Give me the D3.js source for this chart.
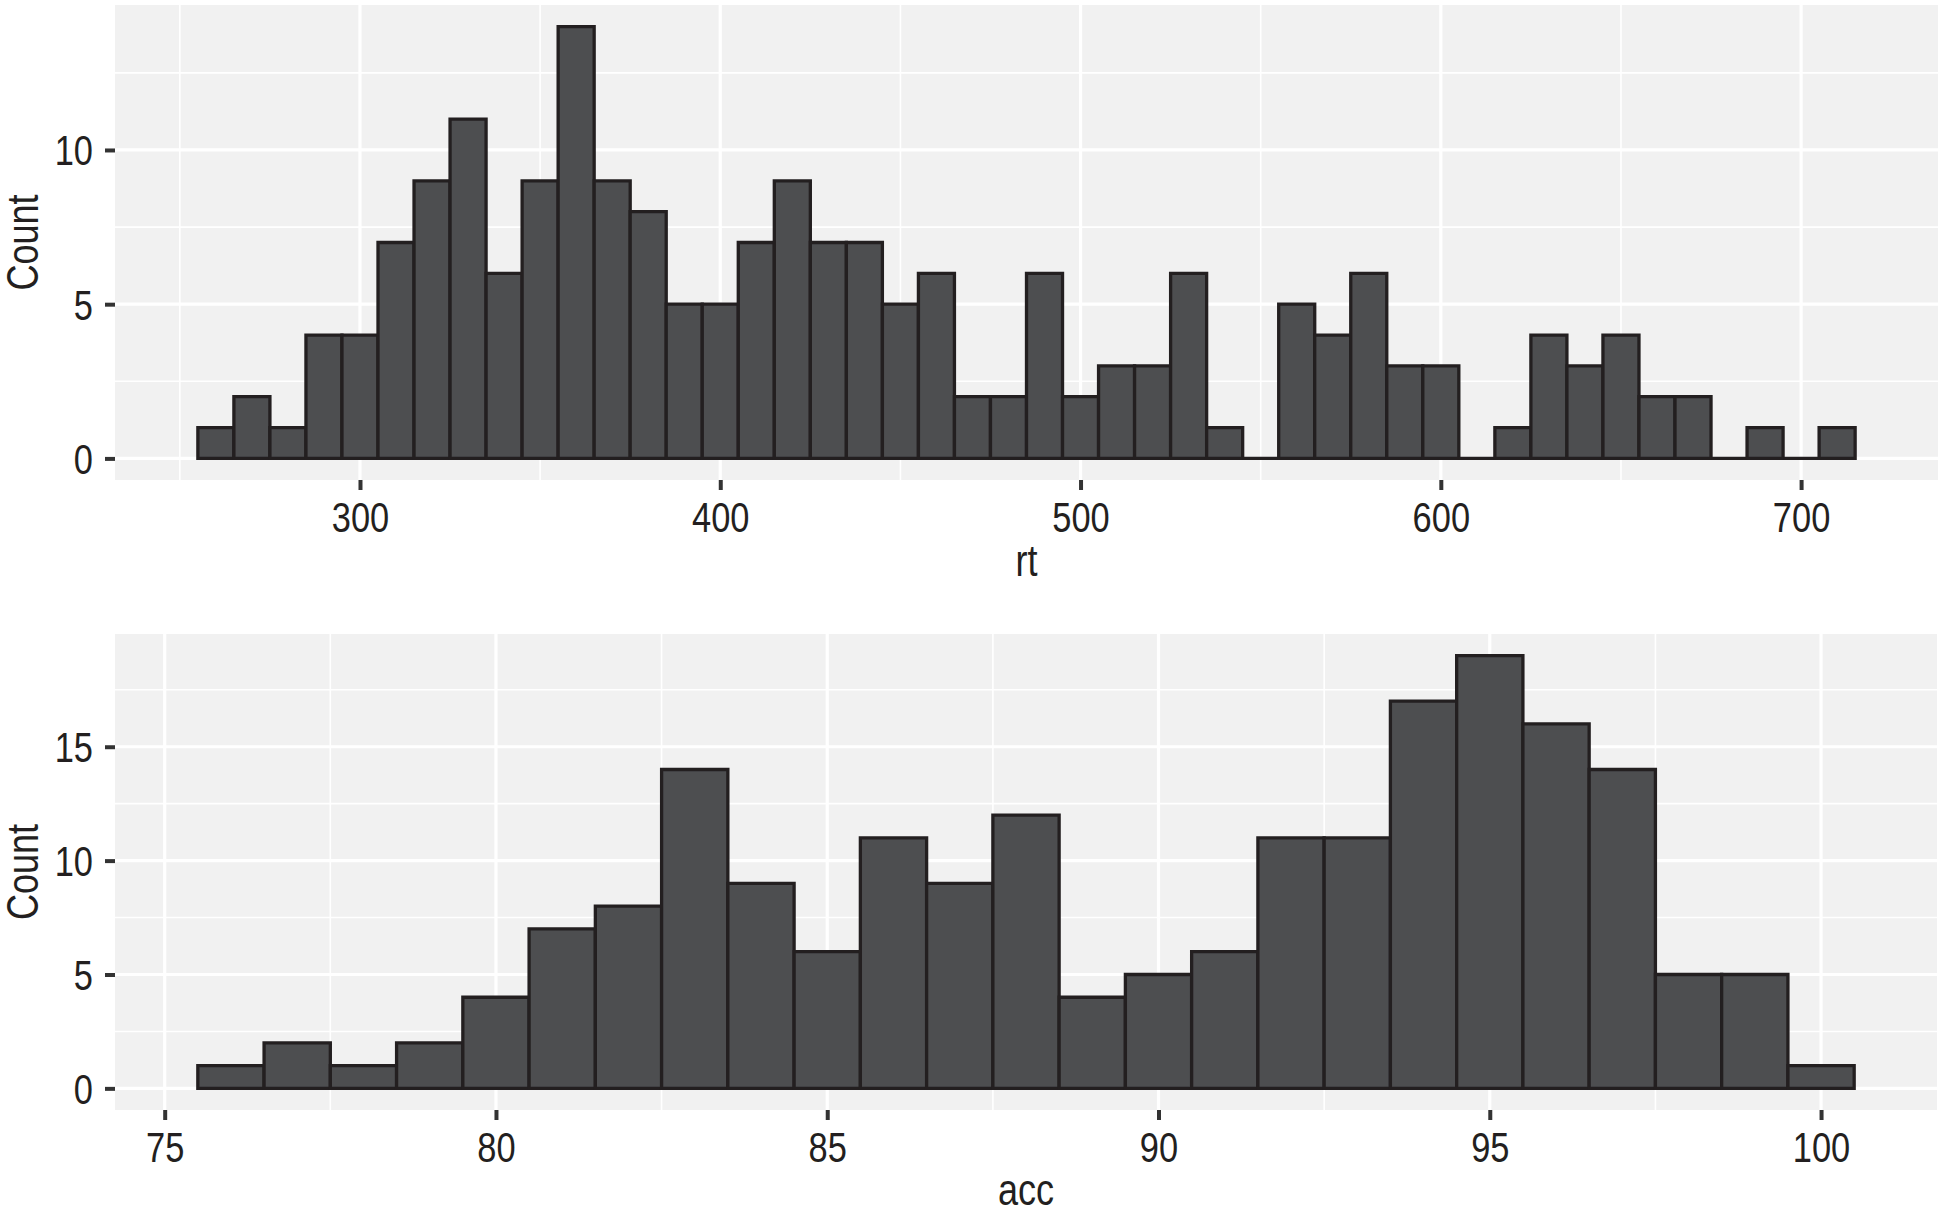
<!DOCTYPE html>
<html>
<head>
<meta charset="utf-8">
<script src="https://cdn.jsdelivr.net/npm/d3@7"></script>
<style>
  html, body { margin: 0; padding: 0; background: #ffffff; }
  svg { display: block; }
  text { font-family: "Liberation Sans", Arial, sans-serif; fill: #231f20; }
</style>
</head>
<body>
<svg id="chart" width="1943" height="1215"></svg>
<script>
// ---------- data ----------
const rtBinWidth = 10;
const rtCenters = [260,270,280,290,300,310,320,330,340,350,360,370,380,390,400,410,420,430,440,450,
                   460,470,480,490,500,510,520,530,540,550,560,570,580,590,600,610,620,630,640,650,
                   660,670,680,690,700,710];
const rtCounts  = [1,2,1,4,4,7,9,11,6,9,14,9,8,5,5,7,9,7,7,5,
                   6,2,2,6,2,3,3,6,1,0,5,4,6,3,3,0,1,4,3,4,
                   2,2,0,1,0,1];
const rtXTicks = [300,400,500,600,700];
const rtYTicks = [0,5,10];

const accBinWidth = 1;
const accCenters = [76,77,78,79,80,81,82,83,84,85,86,87,88,89,90,91,92,93,94,95,96,97,98,99,100];
const accCounts  = [1,2,1,2,4,7,8,14,9,6,11,9,12,4,5,6,11,11,17,19,16,14,5,5,1];
const accXTicks = [75,80,85,90,95,100];
const accYTicks = [0,5,10,15];

const yTitle = "Count";

// ---------- drawing ----------
const svg = d3.select("#chart");
const NARROW = 0.82;       // horizontal squeeze to mimic a narrow face
const TICK_FS = 42, TITLE_FS = 44;

function expand(lo, hi, f) { const d = (hi - lo) * f; return [lo - d, hi + d]; }

function panel(opts) {
  const { left, right, top, bottom, centers, counts, bw, xTicks, yTicks, xTitle, titleGap } = opts;
  const xmin = d3.min(centers) - bw / 2, xmax = d3.max(centers) + bw / 2;
  const x = d3.scaleLinear().domain(expand(xmin, xmax, 0.05)).range([left, right]);
  const ymax = d3.max(counts);
  const y = d3.scaleLinear().domain(expand(0, ymax, 0.05)).range([bottom, top]);

  const g = svg.append("g");
  g.append("rect").attr("x", left).attr("y", top)
    .attr("width", right - left).attr("height", bottom - top)
    .attr("fill", "#f1f1f1");

  // grid
  const xDom = x.domain(), yDom = y.domain();
  const xStep = xTicks[1] - xTicks[0];
  const xMinor = [];
  for (let v = xTicks[0] - xStep / 2; v <= xDom[1]; v += xStep) if (v >= xDom[0]) xMinor.push(v);
  const yStep = yTicks[1] - yTicks[0];
  const yMinor = [];
  for (let v = yTicks[0] + yStep / 2; v <= yDom[1]; v += yStep) yMinor.push(v);

  g.selectAll(".xminor").data(xMinor).join("line")
    .attr("x1", d => x(d)).attr("x2", d => x(d)).attr("y1", top).attr("y2", bottom)
    .attr("stroke", "#ffffff").attr("stroke-width", 1.6);
  g.selectAll(".yminor").data(yMinor).join("line")
    .attr("y1", d => y(d)).attr("y2", d => y(d)).attr("x1", left).attr("x2", right)
    .attr("stroke", "#ffffff").attr("stroke-width", 1.6);
  g.selectAll(".xmajor").data(xTicks).join("line")
    .attr("x1", d => x(d)).attr("x2", d => x(d)).attr("y1", top).attr("y2", bottom)
    .attr("stroke", "#ffffff").attr("stroke-width", 3.2);
  g.selectAll(".ymajor").data(yTicks).join("line")
    .attr("y1", d => y(d)).attr("y2", d => y(d)).attr("x1", left).attr("x2", right)
    .attr("stroke", "#ffffff").attr("stroke-width", 3.2);

  // bars (paths so zero-count bins still show their outline on the baseline)
  const data = centers.map((c, i) => ({ c, n: counts[i] }));
  g.selectAll(".bar").data(data).join("path")
    .attr("d", d => {
      const x0 = x(d.c - bw / 2), x1 = x(d.c + bw / 2), y0 = y(0), y1 = y(d.n);
      return `M${x0},${y0}V${y1}H${x1}V${y0}Z`;
    })
    .attr("fill", "#4d4e50").attr("stroke", "#231f20").attr("stroke-width", 3.3)
    .attr("stroke-linejoin", "miter");

  // axes
  const xAxis = d3.axisBottom(x).tickValues(xTicks).tickSize(10).tickFormat(d3.format("d"));
  const ax = g.append("g").attr("transform", `translate(0,${bottom})`).call(xAxis);
  ax.select(".domain").remove();
  ax.selectAll(".tick line").attr("stroke", "#333333").attr("stroke-width", 4);
  ax.selectAll(".tick text").attr("font-size", TICK_FS).attr("fill", "#231f20")
    .attr("dy", null).attr("x", 0).attr("y", 0)
    .attr("transform", `translate(0,52) scale(${NARROW},1)`);

  const yAxis = d3.axisLeft(y).tickValues(yTicks).tickSize(10).tickFormat(d3.format("d"));
  const ay = g.append("g").attr("transform", `translate(${left},0)`).call(yAxis);
  ay.select(".domain").remove();
  ay.selectAll(".tick line").attr("stroke", "#333333").attr("stroke-width", 4);
  ay.selectAll(".tick text").attr("font-size", TICK_FS).attr("fill", "#231f20")
    .attr("dy", null).attr("x", 0).attr("y", 0)
    .attr("transform", `translate(-22,15) scale(${NARROW},1)`);

  // titles
  g.append("text")
    .attr("transform", `translate(${(left + right) / 2},${bottom + titleGap}) scale(${NARROW},1)`)
    .attr("text-anchor", "middle").attr("font-size", TITLE_FS).text(xTitle);
  g.append("text")
    .attr("transform", `translate(38,${(top + bottom) / 2}) rotate(-90) scale(${NARROW},1)`)
    .attr("text-anchor", "middle").attr("font-size", TITLE_FS).text(yTitle);
}

panel({ left: 115, right: 1938, top: 5, bottom: 480,
        centers: rtCenters, counts: rtCounts, bw: rtBinWidth,
        xTicks: rtXTicks, yTicks: rtYTicks, xTitle: "rt", titleGap: 96 });
panel({ left: 115, right: 1937, top: 634, bottom: 1110,
        centers: accCenters, counts: accCounts, bw: accBinWidth,
        xTicks: accXTicks, yTicks: accYTicks, xTitle: "acc", titleGap: 95 });
</script>
</body>
</html>
